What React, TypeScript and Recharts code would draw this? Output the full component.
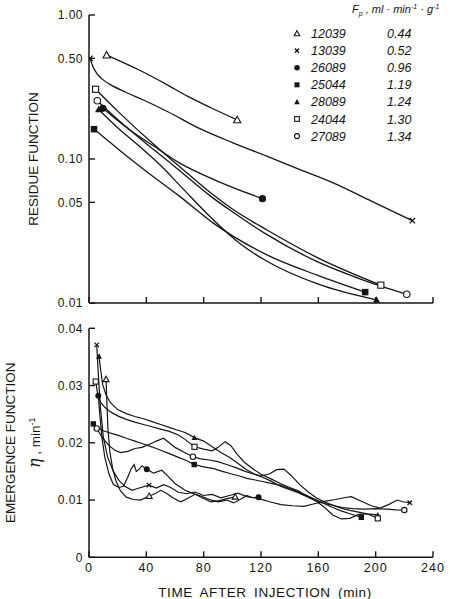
import { Label, Legend, Line, LineChart, XAxis, YAxis } from "recharts";

const INK = "#151515";
const FONT = "'Liberation Sans', Arial, sans-serif";

// experiment ids and plasma flow, in legend order
const ids = ["12039", "13039", "26089", "25044", "28089", "24044", "27089"];
const flows = ["0.44", "0.52", "0.96", "1.19", "1.24", "1.30", "1.34"];
const symbols = ["triOpen", "cross", "dot", "square", "tri", "squareOpen", "circleOpen"];

const xTicks = [0, 40, 80, 120, 160, 200, 240];
const resTicks = [0.01, 0.05, 0.1, 0.5, 1];
const emTicks = [0, 0.01, 0.02, 0.03, 0.04];

// residue function, [min, value]
const res12039 = [[12.3, 0.527], [35, 0.415], [54, 0.33], [69, 0.272], [85, 0.227], [103.4, 0.187]];
const res13039 = [[0.7, 0.5], [2.5, 0.445], [5.3, 0.395], [9, 0.36], [14.6, 0.33], [25, 0.293], [38, 0.257], [55, 0.213], [77, 0.163], [100, 0.13], [123.6, 0.105], [145, 0.086], [170, 0.0685], [197, 0.051], [225.6, 0.0373]];
const res26089 = [[9.7, 0.225], [20, 0.185], [30, 0.155], [45.7, 0.122], [63, 0.094], [90, 0.07], [121, 0.053]];
const res25044 = [[3.5, 0.161], [20, 0.118], [38.7, 0.084], [63.3, 0.055], [86.5, 0.036], [124.5, 0.0215], [160, 0.0155], [192.7, 0.0119]];
const res28089 = [[6.7, 0.221], [20, 0.165], [35, 0.123], [50, 0.09], [65, 0.063], [86.5, 0.038], [105, 0.026], [124.5, 0.0194], [160, 0.0135], [200.6, 0.0105]];
const res24044 = [[4.6, 0.305], [20, 0.215], [45.7, 0.125], [63.3, 0.0885], [85, 0.058], [100, 0.045], [124.5, 0.032], [160, 0.0205], [203.6, 0.0133]];
const res27089 = [[5.8, 0.254], [20, 0.188], [45.7, 0.115], [63.3, 0.083], [85, 0.055], [100, 0.043], [124.5, 0.0297], [160, 0.0192], [190, 0.0146], [221.7, 0.0115]];

// emergence function, [min, value per min]
const em12039 = [[11.9, 0.0311], [12.5, 0.027], [13.2, 0.0225], [14.5, 0.0185], [16.5, 0.0155], [19, 0.0132], [22, 0.0116], [26, 0.0105], [31, 0.0101], [36, 0.01], [42, 0.0107], [46, 0.0111], [50, 0.0117], [54, 0.0112], [59, 0.0103], [64, 0.0097], [69, 0.0103], [74, 0.011], [79, 0.0104], [85, 0.0097], [91, 0.0099], [97, 0.0103], [102, 0.01058]];
const em13039 = [[5.4, 0.0371], [6.5, 0.032], [8, 0.026], [10, 0.021], [13, 0.0175], [17, 0.015], [21, 0.0134], [25, 0.0124], [30, 0.0117], [35, 0.0121], [41.9, 0.0126], [47, 0.0121], [52, 0.0127], [57, 0.0122], [62, 0.0114], [68, 0.0111], [74, 0.0114], [80, 0.0108], [86, 0.011], [92, 0.0104], [98, 0.0108], [104, 0.0112], [110, 0.0106], [118, 0.0103], [126, 0.0097], [134, 0.0092], [142, 0.009], [150, 0.0089], [158, 0.0094], [165, 0.0098], [172, 0.0101], [178, 0.0104], [183, 0.0106], [190, 0.0098], [197, 0.009], [203, 0.0086], [209, 0.0092], [215, 0.01], [219, 0.0097], [223.8, 0.00953]];
const em26089 = [[6.5, 0.0282], [7.5, 0.025], [9, 0.021], [11, 0.0175], [14, 0.0145], [17, 0.0127], [21, 0.0122], [24, 0.0124], [27, 0.014], [29.5, 0.0155], [31.5, 0.0162], [33, 0.015], [35, 0.0154], [37, 0.016], [40.3, 0.0154], [45, 0.0147], [50.8, 0.0152], [55.4, 0.0141], [60, 0.0129], [67, 0.0117], [72, 0.0112], [78, 0.0107], [84, 0.0101], [90, 0.0097], [96, 0.01], [101, 0.0095], [106, 0.0102], [110, 0.0108], [114, 0.0104], [118.3, 0.01047]];
const em25044 = [[3, 0.0233], [6, 0.0227], [10, 0.0221], [15, 0.0217], [20.5, 0.0213], [26, 0.0208], [32, 0.0203], [38, 0.0198], [43.8, 0.0193], [50, 0.0187], [56, 0.0181], [62, 0.0175], [67.1, 0.017], [73.4, 0.0162], [80, 0.0158], [87, 0.0155], [93, 0.015], [99, 0.0146], [105, 0.0142], [110.2, 0.0138], [116, 0.0135], [121.8, 0.0132], [127, 0.0129], [133.5, 0.0126], [140, 0.012], [146, 0.0114], [152, 0.0108], [158, 0.0101], [164, 0.0094], [170, 0.0087], [176, 0.0081], [182, 0.0076], [186, 0.0073], [190, 0.00698]];
const em28089 = [[7, 0.0351], [8, 0.033], [9.5, 0.0302], [12, 0.0283], [15, 0.027], [20, 0.0258], [26, 0.0251], [32, 0.0246], [38, 0.0242], [44, 0.0237], [50, 0.0232], [56, 0.0227], [62, 0.0222], [67, 0.0218], [73.6, 0.0209], [80, 0.0203], [86, 0.0193], [92, 0.0183], [98.5, 0.0174], [104, 0.0164], [110, 0.0153], [115, 0.0146], [120, 0.0141], [127, 0.0133], [133.5, 0.0124], [140, 0.0118], [146, 0.0113], [152, 0.0106], [158, 0.0099], [164, 0.0094], [170, 0.0091], [176, 0.0086], [182, 0.0082], [188, 0.0079], [194, 0.0076], [201.5, 0.0074]];
const em24044 = [[4.7, 0.0307], [6, 0.0286], [8, 0.0271], [11, 0.0262], [15, 0.0254], [20, 0.0247], [26, 0.0241], [32, 0.0236], [38, 0.0232], [44, 0.0228], [50, 0.0224], [56, 0.022], [62, 0.0214], [67, 0.0206], [73.6, 0.0193], [80, 0.0189], [86, 0.0186], [90, 0.0192], [95, 0.0202], [99, 0.0195], [103, 0.0181], [108, 0.0167], [114, 0.0155], [120, 0.0145], [127, 0.0137], [133.5, 0.0129], [140, 0.0122], [146, 0.0116], [152, 0.0107], [158, 0.0099], [164, 0.0088], [170, 0.0074], [176, 0.0067], [182, 0.0068], [188, 0.0075], [194, 0.0076], [201.5, 0.0068]];
const em27089 = [[5.4, 0.0225], [8, 0.0214], [11, 0.0204], [14, 0.0195], [18, 0.0187], [22, 0.0183], [27, 0.0185], [32, 0.019], [37, 0.0192], [42, 0.0197], [47, 0.0203], [52, 0.0208], [56, 0.02], [60, 0.0192], [66, 0.0184], [72.5, 0.01756], [78, 0.0172], [84, 0.017], [90, 0.0167], [96, 0.0162], [102, 0.0157], [108, 0.0151], [114, 0.0146], [120, 0.0142], [126, 0.0146], [131, 0.0153], [136, 0.0154], [141, 0.0143], [147, 0.0127], [153, 0.0114], [159, 0.0103], [165, 0.0096], [171, 0.009], [177, 0.0087], [184, 0.0085], [192, 0.0084], [200, 0.0085], [208, 0.0084], [214, 0.0083], [220, 0.00825]];

// times where the emergence curves carry a symbol
const emMarks = [[11.9, 42, 102], [5.4, 41.9, 223.8], [6.5, 40.3, 118.3], [3, 73.4, 190], [7, 73.6, 201.5], [4.7, 73.6, 201.5], [5.4, 72.5, 220]];

const residue = [res12039, res13039, res26089, res25044, res28089, res24044, res27089];
const emergence = [em12039, em13039, em26089, em25044, em28089, em24044, em27089];

const toRows = (pairs: number[][]) => pairs.map(([t, v]) => ({ t, v }));

function Marker({ kind, x, y, s }: { kind: string; x: number; y: number; s: number }) {
  const h = s * 0.8;
  switch (kind) {
    case "triOpen":
      return <polygon points={`${x},${y - s} ${x + s},${y + h} ${x - s},${y + h}`} fill="#fff" stroke={INK} strokeWidth={1.1} />;
    case "tri":
      return <polygon points={`${x},${y - s} ${x + s},${y + h} ${x - s},${y + h}`} fill={INK} />;
    case "cross": {
      const c = s * 0.75;
      return <path d={`M${x - c},${y - c}L${x + c},${y + c}M${x - c},${y + c}L${x + c},${y - c}`} stroke={INK} strokeWidth={1.3} />;
    }
    case "dot":
      return <circle cx={x} cy={y} r={s} fill={INK} />;
    case "circleOpen":
      return <circle cx={x} cy={y} r={s * 0.9} fill="#fff" stroke={INK} strokeWidth={1.1} />;
    case "square":
      return <rect x={x - s * 0.9} y={y - s * 0.9} width={s * 1.8} height={s * 1.8} fill={INK} />;
    default:
      return <rect x={x - s * 0.85} y={y - s * 0.85} width={s * 1.7} height={s * 1.7} fill="#fff" stroke={INK} strokeWidth={1.1} />;
  }
}

const endDots = (kind: string, n: number) => (p: any) => (
  <g key={`e${p.index}`}>
    {(p.index === 0 || p.index === n - 1) && <Marker kind={kind} x={p.cx} y={p.cy} s={3.6} />}
  </g>
);

const markDots = (kind: string, times: number[]) => (p: any) => (
  <g key={`m${p.index}`}>
    {times.includes(p.payload.t) && <Marker kind={kind} x={p.cx} y={p.cy} s={3} />}
  </g>
);

const XTick = (showLabel: boolean) => (p: any) => (
  <g>
    <line x1={p.x} x2={p.x} y1={p.y} y2={p.y - 6} stroke={INK} strokeWidth={1.4} />
    {showLabel && (
      <text x={p.x} y={p.y + 14.5} textAnchor="middle" fontFamily={FONT} fontSize={12.5} letterSpacing={1} fill={INK}>
        {p.payload.value}
      </text>
    )}
  </g>
);

const YTick = (fmt: (v: number) => string) => (p: any) => (
  <g>
    <line x1={p.x} x2={p.x + 6} y1={p.y} y2={p.y} stroke={INK} strokeWidth={1.4} />
    <text x={p.x - 6} y={p.y} dy="0.35em" textAnchor="end" fontFamily={FONT} fontSize={12} letterSpacing={0.5} fill={INK}>
      {fmt(p.payload.value)}
    </text>
  </g>
);

const axisLine = { stroke: INK, strokeWidth: 1.5 };
const titleStyle = { fontFamily: FONT, fontSize: 13.5, fill: INK };

function LegendBox() {
  return (
    <svg width={170} height={150} style={{ display: "block" }}>
      <text x={72} y={13} fontFamily={FONT} fontSize={11} fontStyle="italic" fill={INK}>
        F<tspan dy={2.5} fontSize={7}>p</tspan>
        <tspan dy={-2.5}> ,  ml · min</tspan>
        <tspan dy={-4} fontSize={7}>-1</tspan>
        <tspan dy={4}> · g</tspan>
        <tspan dy={-4} fontSize={7}>-1</tspan>
      </text>
      {ids.map((id, i) => (
        <g key={id}>
          <Marker kind={symbols[i]} x={17} y={33.5 + 17.1 * i} s={2.8} />
          <text x={31} y={33.5 + 17.1 * i} dy="0.36em" fontFamily={FONT} fontSize={12.5} fontStyle="italic" fill={INK}>
            {id}
          </text>
          <text x={107} y={33.5 + 17.1 * i} dy="0.36em" fontFamily={FONT} fontSize={12.5} fontStyle="italic" fill={INK}>
            {flows[i]}
          </text>
        </g>
      ))}
    </svg>
  );
}

export default function App() {
  return (
    <div style={{ position: "absolute", left: 0, top: 0, width: 450, height: 599, background: "#fff" }}>
      <div style={{ position: "absolute", left: 0, top: 0 }}>
        <LineChart width={450} height={320} margin={{ top: 15, right: 17, bottom: 0, left: 0 }}>
          <XAxis type="number" dataKey="t" domain={[0, 240]} allowDataOverflow ticks={xTicks} interval={0} height={17} tickSize={0} tickMargin={0} tick={XTick(false)} axisLine={axisLine} tickLine={false} />
          <YAxis type="number" scale="log" domain={[0.01, 1]} allowDataOverflow ticks={resTicks} interval={0} width={89} tickSize={0} tickMargin={0} tick={YTick((v) => v.toFixed(2))} axisLine={axisLine} tickLine={false}>
            <Label
              content={({ viewBox }: any) => {
                const cy = viewBox.y + viewBox.height / 2;
                return (
                  <text x={38} y={cy} transform={`rotate(-90, 38, ${cy})`} textAnchor="middle" {...titleStyle}>
                    RESIDUE FUNCTION
                  </text>
                );
              }}
            />
          </YAxis>
          <Legend layout="vertical" align="center" verticalAlign="middle" wrapperStyle={{ left: 280, top: 0, width: 170 }} content={() => <LegendBox />} />
          {residue.map((d, i) => (
            <Line key={ids[i]} data={toRows(d)} dataKey="v" type="monotone" stroke={INK} strokeWidth={1.3} dot={endDots(symbols[i], d.length)} activeDot={false} isAnimationActive={false} />
          ))}
        </LineChart>
      </div>
      <div style={{ position: "absolute", left: 0, top: 310 }}>
        <LineChart width={450} height={289} margin={{ top: 18.3, right: 17, bottom: 0, left: 0 }}>
          <XAxis type="number" dataKey="t" domain={[0, 240]} allowDataOverflow ticks={xTicks} interval={0} height={41.7} tickSize={0} tickMargin={0} tick={XTick(true)} axisLine={axisLine} tickLine={false}>
            <Label
              content={({ viewBox }: any) => (
                <text x={viewBox.x + viewBox.width / 2 + 4} y={viewBox.y + viewBox.height - 2} textAnchor="middle" letterSpacing={0.6} wordSpacing={3} {...titleStyle}>
                  TIME AFTER INJECTION (min)
                </text>
              )}
            />
          </XAxis>
          <YAxis type="number" domain={[0, 0.04]} allowDataOverflow ticks={emTicks} interval={0} width={89} tickSize={0} tickMargin={0} tick={YTick((v) => (v === 0 ? "0" : v.toFixed(2)))} axisLine={axisLine} tickLine={false}>
            <Label
              content={({ viewBox }: any) => {
                const cy = viewBox.y + viewBox.height / 2;
                return (
                  <g>
                    <text x={15} y={cy} transform={`rotate(-90, 15, ${cy})`} textAnchor="middle" {...titleStyle}>
                      EMERGENCE FUNCTION
                    </text>
                    <text x={40} y={cy} transform={`rotate(-90, 40, ${cy})`} textAnchor="middle" {...titleStyle}>
                      <tspan fontFamily="'DejaVu Serif', serif" fontStyle="italic" fontSize={16}>η</tspan>
                      <tspan> , min</tspan>
                      <tspan dy={-5} fontSize={9}>-1</tspan>
                    </text>
                  </g>
                );
              }}
            />
          </YAxis>
          {emergence.map((d, i) => (
            <Line key={ids[i]} data={toRows(d)} dataKey="v" type="linear" stroke={INK} strokeWidth={1.2} dot={markDots(symbols[i], emMarks[i])} activeDot={false} isAnimationActive={false} />
          ))}
        </LineChart>
      </div>
    </div>
  );
}
